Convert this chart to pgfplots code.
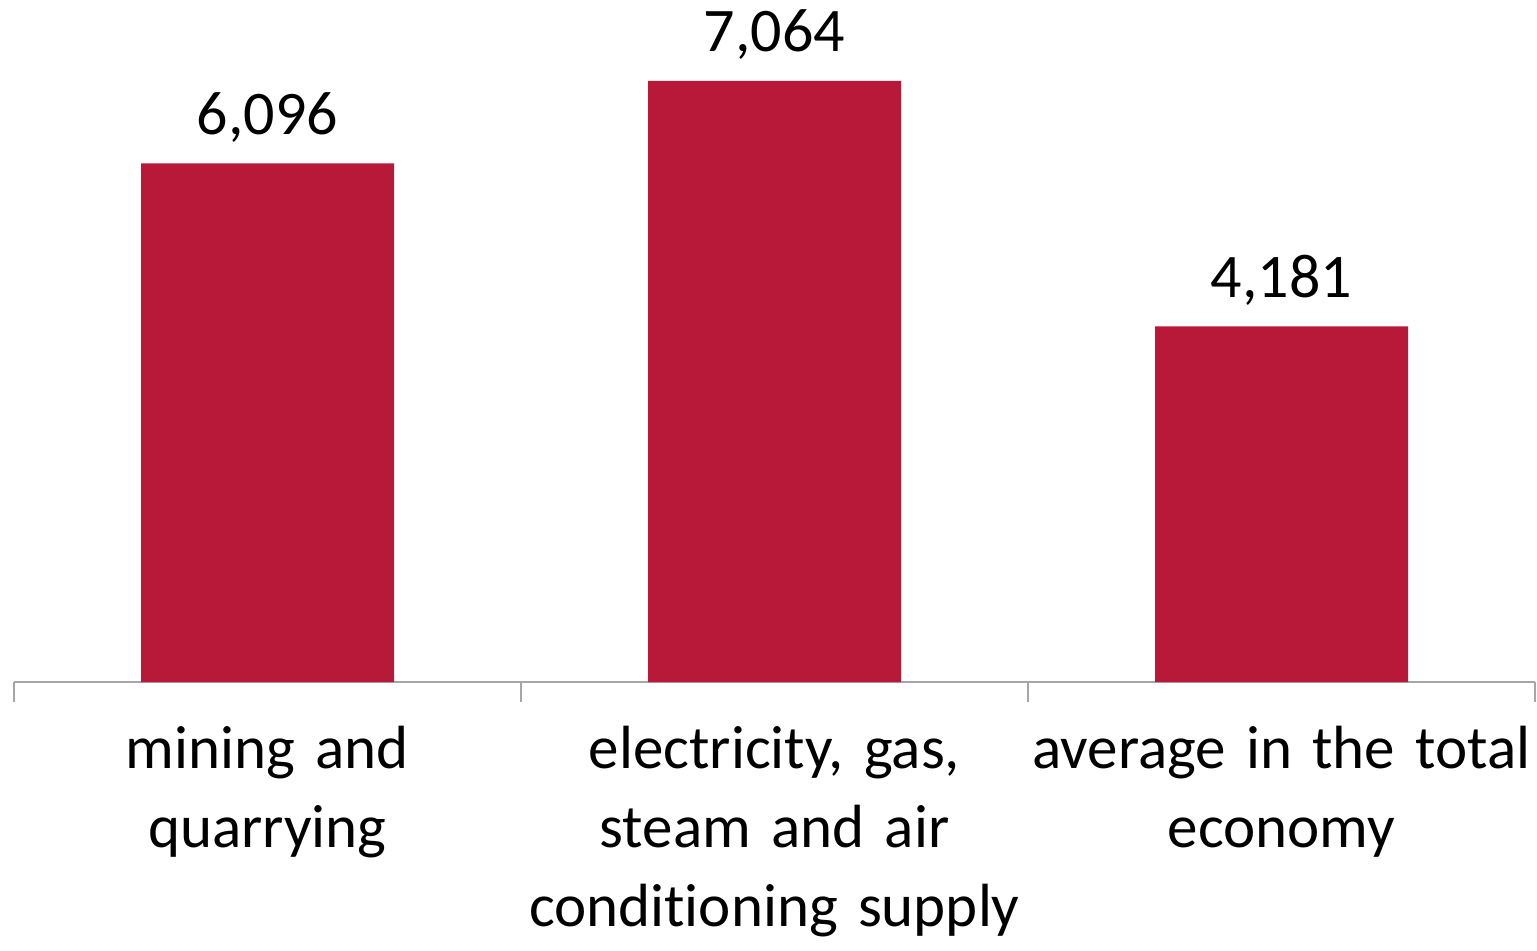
\documentclass[border=0pt]{standalone}
\usepackage{fontspec}
\setmainfont{Carlito}[Ligatures=NoCommon, WordSpace={0.8,0,0}]
\usepackage{pgfplots}
\pgfplotsset{compat=1.18}
\definecolor{barred}{RGB}{184,25,56}
\definecolor{axgray}{RGB}{166,166,166}
\begin{document}
\begin{tikzpicture}
\path[use as bounding box] (0,0) rectangle (768.5pt,475pt);
\begin{axis}[
  at={(7pt,134pt)}, anchor=south west,
  scale only axis,
  width=760.5pt, height=341pt,
  xmin=-0.5, xmax=2.5, ymin=0, ymax=8016,
  axis y line=none,
  axis x line*=bottom,
  x axis line style={draw=axgray, line width=1pt, -},
  xtick={0,1,2},
  xticklabels={{mining and\\quarrying},{electricity, gas,\\steam and air\\conditioning supply},{average in the total\\economy}},
  major x tick style={draw=none},
  major tick length=0pt,
  minor xtick={-0.5,0.5,1.5,2.5},
  minor tick length=10pt,
  minor x tick style={draw=axgray, line width=1pt},
  tick align=outside,
  xticklabel style={font=\fontsize{30.5}{39.5}\selectfont, text width=262pt, align=center, anchor=base, yshift=-43pt, inner sep=0pt},
  ybar, bar width=126.5pt,
  nodes near coords,
  nodes near coords style={font=\fontsize{31}{39}\selectfont, anchor=base, yshift=14.5pt, inner sep=0pt, text=black,
    /pgf/number format/.cd, 1000 sep={,}, fixed, assume math mode=true},
  point meta=y,
  clip=false,
]
\addplot[fill=barred, draw=none] coordinates {(0,6096) (1,7064) (2,4181)};
\end{axis}
\end{tikzpicture}
\end{document}
